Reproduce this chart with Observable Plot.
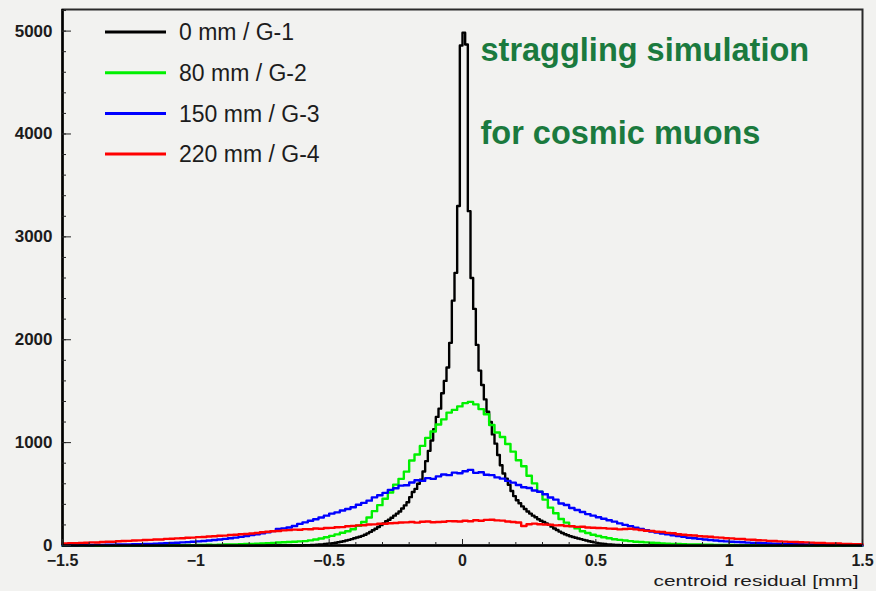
<!DOCTYPE html>
<html><head><meta charset="utf-8">
<script src="https://cdn.jsdelivr.net/npm/d3@7"></script>
<script src="https://cdn.jsdelivr.net/npm/@observablehq/plot@0.6"></script>
<style>
html,body{margin:0;padding:0;background:#f2f2f0;}
#chart{width:876px;height:591px;overflow:hidden;}
</style></head><body><div id="chart"></div>
<script>
// ---- data (histogram bin contents) ----
const binStart = -1.5;      // left edge of first bin, mm
const binWidth = 0.02;      // mm
const blackBinStart = -0.6; // G-1 is stored with finer bins around the peak
const blackBinWidth = 0.01;
const xRange = [-1.5, 1.5];
const yMax = 5210;

const seriesLabels = ["0 mm / G-1", "80 mm / G-2", "150 mm / G-3", "220 mm / G-4"];
const seriesColors = ["#000000", "#00f000", "#0000ff", "#ff0000"];

const blackCounts = [
  3,4,4,5,6,7,9,11,14,17,
  20,23,27,31,36,42,48,55,62,70,
  78,85,94,104,118,132,148,163,180,198,
  215,235,250,270,290,310,330,360,390,420,
  470,520,550,600,640,720,820,920,1020,1130,
  1250,1330,1480,1600,1730,1970,2380,2650,3300,4860,
  4985,4870,3250,2600,2300,1950,1700,1560,1420,1300,
  1200,1080,990,880,780,700,650,590,530,480,
  440,410,380,355,330,310,290,275,255,240,
  230,215,200,183,165,150,135,121,110,100,
  90,82,75,68,62,55,48,42,36,30,
  25,21,18,14,11,9,7,6,5,4
];
const greenCounts = [
  0,0,1,0,1, 1,0,1,1,1, 1,2,1,2,2, 2,3,2,3,3, 3,4,4,5,4,
  5,6,7,6,8, 9,10,11,12,14, 16,18,20,23,25, 29,31,34,36,40, 43,50,58,68,80,
  94,108,124,138,158, 192,228,272,334,392, 455,515,592,648,718, 826,884,968,1046,1108, 1176,1226,1292,1318,1352,
  1384,1396,1372,1326,1276, 1172,1098,1054,986,912, 828,770,678,604,524, 446,368,314,258,222, 188,166,138,122,104,
  93,80,71,61,55, 48,43,37,34,30, 27,24,21,18,16, 14,12,11,10,9, 8,7,6,6,5,
  5,4,4,3,3, 3,3,2,2,2, 2,1,2,1,1, 1,1,0,1,1, 0,1,0,0,0
];
const blueCounts = [
  2,3,3,4,4, 5,6,6,7,8, 9,10,11,12,13, 15,16,18,20,22, 25,27,30,33,36,
  40,44,48,53,58, 64,70,77,84,92, 102,110,118,128,140, 160,166,175,190,210, 225,240,255,272,290,
  310,322,340,355,372, 396,414,436,468,488, 512,541,556,582,586, 612,634,628,655,648, 672,690,684,708,702,
  722,735,706,712,688, 684,662,650,628,611, 588,566,559,534,522, 498,466,446,408,394, 365,345,325,305,290,
  275,260,245,232,215, 200,188,172,160,148, 135,126,116,108,100, 92,84,76,70,64, 58,53,48,44,40,
  37,34,31,28,26, 24,22,20,18,17, 16,14,13,12,11, 10,9,8,8,7, 6,5,5,4,3
];
const redCounts = [
  20,23,22,26,27, 30,29,34,37,36, 41,44,45,49,50, 53,55,58,59,64, 65,69,71,76,77,
  81,83,88,90,95, 96,102,104,109,112, 117,121,129,133,139, 141,147,149,154,153, 159,158,165,163,170,
  171,178,179,187,189, 196,197,204,205,211, 211,217,219,224,225, 229,222,231,233,226, 228,231,237,236,234,
  241,236,246,240,249, 251,244,242,234,229, 224,190,206,213,207, 204,201,196,197,189, 187,181,182,175,173,
  170,169,164,163,157, 161,163,157,151,144, 141,134,131,123,119, 110,105,99,97,91, 88,85,79,77,71,
  69,64,63,57,56, 51,50,45,44,40, 38,35,34,31,30, 28,25,25,21,20, 19,16,16,13,12
];

const xTicks = [-1.5, -1, -0.5, 0, 0.5, 1, 1.5];
const xTickLabels = ["\u22121.5", "\u22121", "\u22120.5", "0", "0.5", "1", "1.5"];
const yTicks = [0, 1000, 2000, 3000, 4000, 5000];
const yTickLabels = ["0", "1000", "2000", "3000", "4000", "5000"];
const xMinorStep = 0.1;
const yMinorStep = 200;
const annotationLines = ["straggling simulation", "for cosmic muons"];
const xLabel = "centroid residual [mm]";

// ---- build step points ----
function steps(start, width, counts) {
  const pts = [];
  if (start > xRange[0] + 1e-9) pts.push({x: xRange[0], y: 0});
  counts.forEach((c, i) => pts.push({x: start + i * width, y: c}));
  const end = start + counts.length * width;
  pts.push({x: end, y: counts[counts.length - 1]});
  if (end < xRange[1] - 1e-9) { pts.push({x: end, y: 0}); pts.push({x: xRange[1], y: 0}); }
  return pts;
}
const seriesData = [
  steps(blackBinStart, blackBinWidth, blackCounts),
  steps(binStart, binWidth, greenCounts),
  steps(binStart, binWidth, blueCounts),
  steps(binStart, binWidth, redCounts)
];

const xMinor = d3.range(Math.round((xRange[1]-xRange[0])/xMinorStep)+1).map(i => +(xRange[0] + i*xMinorStep).toFixed(3));
const yMinor = d3.range(Math.floor(yMax / yMinorStep) + 1).map(i => i * yMinorStep);

const W = 876, H = 591, mL = 62, mR = 14, mT = 9, mB = 46;
const plotW = W - mL - mR, plotH = H - mT - mB;
const font = "'Liberation Sans', Arial, Helvetica, sans-serif";

function legendMark(index, scales, values, dims) {
  const g = d3.create("svg:g").attr("font-family", font).attr("text-anchor", "start");
  seriesLabels.forEach((lab, i) => {
    const y = dims.marginTop + 23 + i * 40.7;
    g.append("line").attr("x1", dims.marginLeft + 43).attr("x2", dims.marginLeft + 104)
      .attr("y1", y).attr("y2", y).attr("stroke", seriesColors[i]).attr("stroke-width", 3);
    g.append("text").attr("x", dims.marginLeft + 117).attr("y", y).attr("dy", "0.36em")
      .attr("text-anchor", "start")
      .attr("font-size", 23).attr("fill", "#1c1c1c").text(lab);
  });
  return g.node();
}

const chart = Plot.plot({
  width: W, height: H,
  marginLeft: mL, marginRight: mR, marginTop: mT, marginBottom: mB,
  style: {background: "#f2f2f0", fontFamily: font, color: "#1c1c1c"},
  x: {domain: xRange},
  y: {domain: [0, yMax]},
  marks: [
    Plot.frame({stroke: "#2a2a2a", strokeWidth: 2}),
    ...seriesData.map((d, i) => Plot.line(d, {x: "x", y: "y", curve: "step-after", stroke: seriesColors[i], strokeWidth: 2.4})),
    Plot.ruleX([xRange[0]], {stroke: "#000", strokeWidth: 2.5}),
    Plot.ruleY([0], {stroke: "#000", strokeWidth: 2.5}),
    Plot.tickY(yMinor, {y: d => d, insetRight: plotW - 4, stroke: "#222", strokeWidth: 1}),
    Plot.tickY(yTicks, {y: d => d, insetRight: plotW - 9, stroke: "#222", strokeWidth: 1}),
    Plot.tickX(xMinor, {x: d => d, insetTop: plotH - 3, stroke: "#222", strokeWidth: 1}),
    Plot.tickX(xTicks, {x: d => d, insetTop: plotH - 6, stroke: "#222", strokeWidth: 1}),
    Plot.axisY(yTicks, {tickSize: 0, tickPadding: 10, fontSize: 17, fontWeight: "bold", tickFormat: d => yTickLabels[yTicks.indexOf(d)], label: null}),
    Plot.axisX(xTicks, {tickSize: 0, tickPadding: 9, fontSize: 16, fontWeight: "bold", tickFormat: d => xTickLabels[xTicks.indexOf(d)], label: null}),
    Plot.text([xLabel], {frameAnchor: "bottom-right", dx: -4, dy: 40.5, lineAnchor: "bottom", textAnchor: "end", fontSize: 14.5, fill: "#1c1c1c"}),
    ...annotationLines.map((t, i) => Plot.text([t], {frameAnchor: "top-left", dx: 418, dy: 51 + i * 83, lineAnchor: "bottom", textAnchor: "start", fontSize: 32.5, fontWeight: "bold", fill: "#1b7a3e"})),
    legendMark
  ]
});
// stretch the axis title to the width it has in the original figure
d3.select(chart).selectAll("text").filter(function() { return this.textContent === xLabel; })
  .attr("textLength", 205).attr("lengthAdjust", "spacingAndGlyphs");
document.getElementById("chart").appendChild(chart);
</script>
</body></html>
